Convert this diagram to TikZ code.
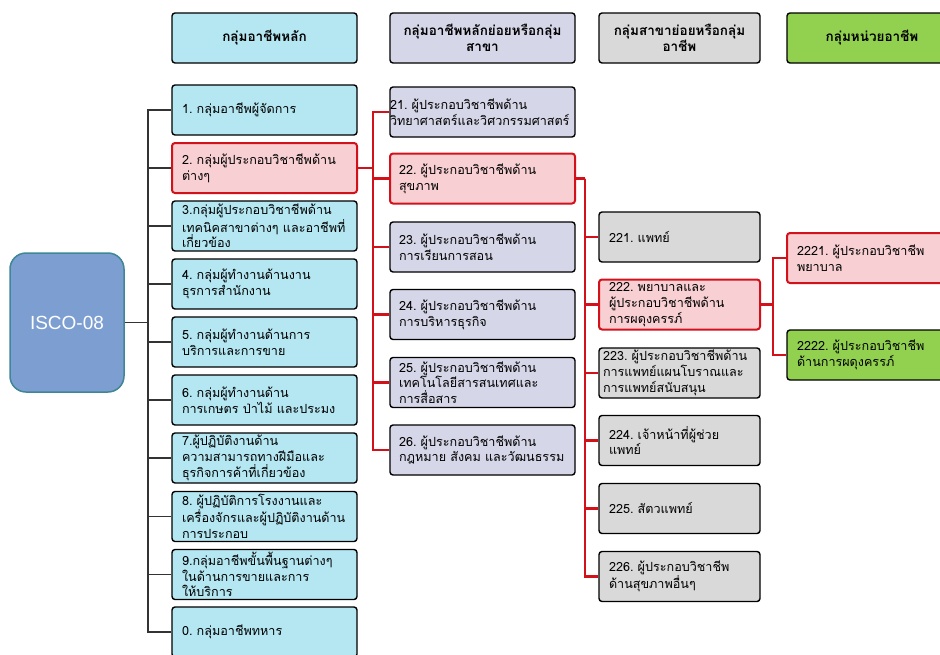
\documentclass[tikz,border=0pt]{standalone}
\usepackage{fontspec}
\newfontfamily\thai[Script=Thai]{Loma}
\newfontfamily\latinsans{Liberation Sans}
\definecolor{cyanbox}{HTML}{B4E7F2}
\definecolor{pinkbox}{HTML}{F8D0D3}
\definecolor{lavbox}{HTML}{D5D6E7}
\definecolor{graybox}{HTML}{D9D9D9}
\definecolor{greenbox}{HTML}{92D050}
\definecolor{iscofill}{HTML}{7C9ED0}
\definecolor{iscoedge}{HTML}{3F8796}
\definecolor{hilite}{HTML}{D3111B}
\definecolor{treeline}{HTML}{333333}
\tikzset{
  box/.style={draw=black, line width=1.4pt, rounded corners=3pt,
    minimum height=50pt, align=left, inner xsep=10pt, inner ysep=1pt,
    font=\thai\frenchspacing\fontsize{12.6}{15.8}\selectfont},
  head/.style={box, align=center, font=\thai\bfseries\fontsize{13.5}{16}\selectfont},
  colA/.style={box, fill=cyanbox, text width=165pt},
  colB/.style={box, fill=lavbox, text width=167pt, inner xsep=9pt},
  colC/.style={box, fill=graybox, text width=141pt},
  colD/.style={box, fill=greenbox, text width=150pt},
  marked/.style={draw=hilite, line width=2pt, fill=pinkbox},
  blackline/.style={draw=treeline, line width=1.4pt},
  redline/.style={draw=hilite, line width=2.2pt}
}
\begin{document}
\begin{tikzpicture}[x=1pt, y=-1pt]
\clip (0,0) rectangle (940,654);
\fill[white] (0,0) rectangle (940,654);

% column headings
\node[head, fill=cyanbox, text width=165pt] (hA) at (264.5,38) {กลุ่มอาชีพหลัก};
\node[head, fill=lavbox, text width=165pt] (hB) at (482.5,38) {กลุ่มอาชีพหลักย่อยหรือกลุ่ม\\สาขา};
\node[head, fill=graybox, text width=141pt] (hC) at (679.5,38) {กลุ่มสาขาย่อยหรือกลุ่ม\\อาชีพ};
\node[head, fill=greenbox, text width=150pt] (hD) at (872,38) {กลุ่มหน่วยอาชีพ};

% root
\node[draw=iscoedge, fill=iscofill, line width=1.5pt, rounded corners=16pt,
  minimum width=114pt, minimum height=139pt, text=white,
  font=\latinsans\fontsize{19}{21}\selectfont] (isco) at (67,322.5) {ISCO-08};

% major groups
\node[colA] (a1) at (264.5,110) {1. กลุ่มอาชีพผู้จัดการ};
\node[colA, marked] (a2) at (264.5,168) {2. กลุ่มผู้ประกอบวิชาชีพด้าน\\ต่างๆ};
\node[colA] (a3) at (264.5,226) {3.กลุ่มผู้ประกอบวิชาชีพด้าน\\เทคนิคสาขาต่างๆ และอาชีพที่\\เกี่ยวข้อง};
\node[colA] (a4) at (264.5,284) {4. กลุ่มผู้ทำงานด้านงาน\\ธุรการสำนักงาน};
\node[colA] (a5) at (264.5,342) {5. กลุ่มผู้ทำงานด้านการ\\บริการและการขาย};
\node[colA] (a6) at (264.5,400) {6. กลุ่มผู้ทำงานด้าน\\การเกษตร ป่าไม้ และประมง};
\node[colA] (a7) at (264.5,458) {7.ผู้ปฏิบัติงานด้าน\\ความสามารถทางฝีมือและ\\ธุรกิจการค้าที่เกี่ยวข้อง};
\node[colA] (a8) at (264.5,516.5) {8. ผู้ปฏิบัติการโรงงานและ\\เครื่องจักรและผู้ปฏิบัติงานด้าน\\การประกอบ};
\node[colA] (a9) at (264.5,574.5) {9.กลุ่มอาชีพขั้นพื้นฐานต่างๆ\\ในด้านการขายและการ\\ให้บริการ};
\node[colA] (a0) at (264.5,632) {0. กลุ่มอาชีพทหาร};

% sub-major groups
\node[colB, inner xsep=0pt, text width=185pt] (b1) at (482.5,112) {21. ผู้ประกอบวิชาชีพด้าน\\วิทยาศาสตร์และวิศวกรรมศาสตร์};
\node[colB, marked] (b2) at (482.5,178.5) {22. ผู้ประกอบวิชาชีพด้าน\\สุขภาพ};
\node[colB] (b3) at (482.5,247) {23. ผู้ประกอบวิชาชีพด้าน\\การเรียนการสอน};
\node[colB] (b4) at (482.5,314.5) {24. ผู้ประกอบวิชาชีพด้าน\\การบริหารธุรกิจ};
\node[colB] (b5) at (482.5,382.5) {25. ผู้ประกอบวิชาชีพด้าน\\เทคโนโลยีสารสนเทศและ\\การสื่อสาร};
\node[colB] (b6) at (482.5,450) {26. ผู้ประกอบวิชาชีพด้าน\\กฎหมาย สังคม และวัฒนธรรม};

% minor groups
\node[colC] (c1) at (679.5,237) {221. แพทย์};
\node[colC, marked] (c2) at (679.5,304.5) {222. พยาบาลและ\\ผู้ประกอบวิชาชีพด้าน\\การผดุงครรภ์};
\node[colC, inner xsep=4pt, text width=153pt] (c3) at (679.5,373) {223. ผู้ประกอบวิชาชีพด้าน\\การแพทย์แผนโบราณและ\\การแพทย์สนับสนุน};
\node[colC] (c4) at (679.5,440.5) {224. เจ้าหน้าที่ผู้ช่วย\\แพทย์};
\node[colC] (c5) at (679.5,508.5) {225. สัตวแพทย์};
\node[colC] (c6) at (679.5,576.5) {226. ผู้ประกอบวิชาชีพ\\ด้านสุขภาพอื่นๆ};

% unit groups
\node[colD, marked] (d1) at (872,258) {2221. ผู้ประกอบวิชาชีพ\\พยาบาล};
\node[colD] (d2) at (872,355) {2222. ผู้ประกอบวิชาชีพ\\ด้านการผดุงครรภ์};

% tree junctions
\coordinate (jA) at (148,322.5);
\coordinate (jB) at (373,168);
\coordinate (jC) at (585,178.5);
\coordinate (jD) at (773,304.5);

% root to major groups
\draw[blackline] (isco.east) -- (jA);
\foreach \n in {a1,a2,a3,a4,a5,a6,a7,a8,a9,a0}
  \draw[blackline] (jA) |- (\n.west);

% group 2 to sub-major groups
\draw[redline] (a2.east) -- (jB);
\foreach \n in {b1,b2,b3,b4,b5,b6}
  \draw[redline] (jB) |- (\n.west);

% group 22 to minor groups
\draw[redline] (b2.east) -- (jC);
\foreach \n in {c1,c2,c3,c4,c5,c6}
  \draw[redline] (jC) |- (\n.west);

% group 222 to unit groups
\draw[redline] (c2.east) -- (jD);
\foreach \n in {d1,d2}
  \draw[redline] (jD) |- (\n.west);
\end{tikzpicture}
\end{document}
